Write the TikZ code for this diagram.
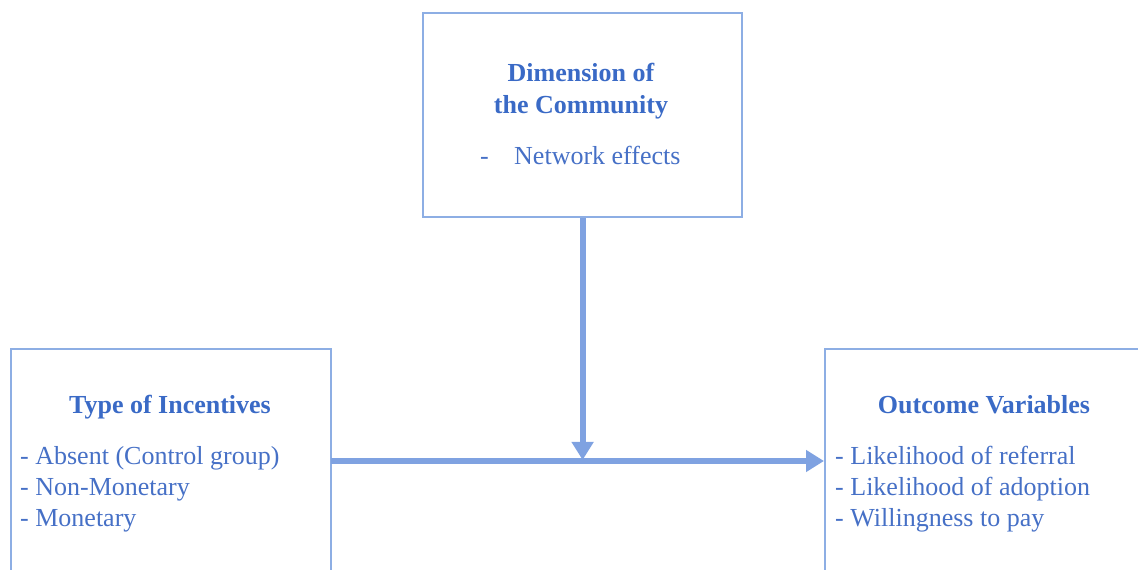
\documentclass[tikz,border=0pt]{standalone}
\usepackage{fontspec}
\setmainfont{Liberation Serif}
\usetikzlibrary{arrows.meta}
\definecolor{boxblue}{HTML}{8DAEE4}
\definecolor{arrowblue}{HTML}{7FA2E1}
\definecolor{titleblue}{HTML}{3A6AC6}
\definecolor{textblue}{HTML}{4670C6}
\begin{document}
\begin{tikzpicture}[x=1pt,y=1pt,
  framebox/.style={draw=boxblue,line width=2.2pt,fill=none},
  titletext/.style={text=titleblue,font=\fontsize{26}{31}\selectfont\bfseries,inner sep=0pt},
  itemtext/.style={text=textblue,font=\fontsize{26}{31}\selectfont,inner sep=0pt,anchor=base west},
  flow/.style={draw=arrowblue,line width=6pt,-{Triangle[length=18pt,width=21pt]}}]
\useasboundingbox (0,0) rectangle (1138,570);
\clip (0,0) rectangle (1138,570);
% boxes
\node[framebox,minimum width=319pt,minimum height=204pt,anchor=north west,inner sep=0pt] (top) at (422,558) {};
\node[framebox,minimum width=320pt,minimum height=260pt,anchor=north west,inner sep=0pt] (left) at (10,222) {};
\node[framebox,minimum width=340pt,minimum height=260pt,anchor=north west,inner sep=0pt] (right) at (824,222) {};
% top texts
\node[titletext,anchor=base] (t1) at (581,488) {Dimension of};
\node[titletext,anchor=base] (t2) at (581,456) {the Community};
\node[itemtext] (t3a) at (480,405) {-};
\node[itemtext] (t3) at (514,405) {Network effects};
% left texts
\node[titletext,anchor=base] (l0) at (170,156) {Type of Incentives};
\node[itemtext] (l1) at (20,105) {- Absent (Control group)};
\node[itemtext] (l2) at (20,74) {- Non-Monetary};
\node[itemtext] (l3) at (20,43) {- Monetary};
% right texts
\node[titletext,anchor=base] (r0) at (984,156) {Outcome Variables};
\node[itemtext] (r1) at (835,105) {- Likelihood of referral};
\node[itemtext] (r2) at (835,74) {- Likelihood of adoption};
\node[itemtext] (r3) at (835,43) {- Willingness to pay};
% connectors
\coordinate (hstart) at (331,109);
\coordinate (hend) at (right.west |- hstart);
\coordinate (vend) at (top.south |- hstart);
\draw[flow] (hstart) -- (hend);
\draw[flow] (top.south) -- ([yshift=1pt]vend);
\end{tikzpicture}
\end{document}
